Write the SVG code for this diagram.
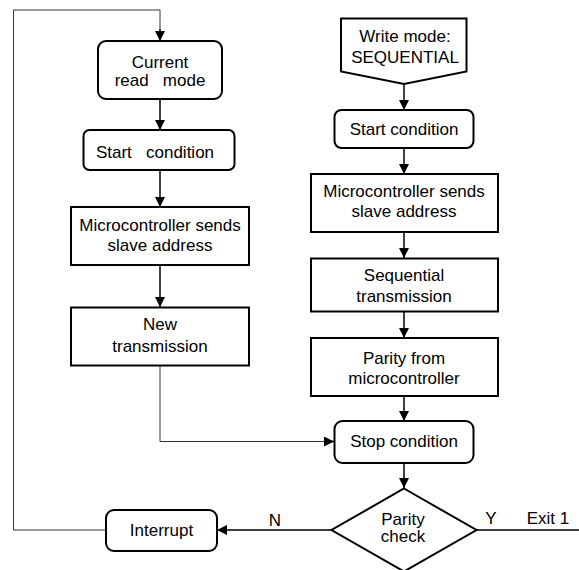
<svg xmlns="http://www.w3.org/2000/svg" width="579" height="570" viewBox="0 0 579 570">
<defs>
<marker id="ah" markerUnits="userSpaceOnUse" markerWidth="10" markerHeight="10" refX="10" refY="5" orient="auto" viewBox="0 0 10 10">
<path d="M0,0 L10,5 L0,10 z" fill="#000"/>
</marker>
<style>
.box{fill:#fff;stroke:#000;stroke-width:2}
.ln{fill:none;stroke:#000;stroke-width:1.5}
.thin{fill:none;stroke:#333;stroke-width:1}
.t{font-family:"Liberation Sans",Arial,sans-serif;font-size:17px;fill:#000;text-anchor:middle;white-space:pre}
</style>
</defs>
<rect width="579" height="570" fill="#fff"/>
<g id="connectors">
<polyline class="thin" points="106,530 13.5,530 13.5,10 160,10 160,30"/>
<line class="ln" x1="160" y1="29" x2="160" y2="41" marker-end="url(#ah)"/>
<line class="ln" x1="160" y1="99" x2="160" y2="130" marker-end="url(#ah)"/>
<line class="ln" x1="160" y1="170" x2="160" y2="207" marker-end="url(#ah)"/>
<line class="ln" x1="160" y1="265" x2="160" y2="307" marker-end="url(#ah)"/>
<polyline class="thin" points="160,366 160,441.5 325,441.5"/>
<line class="ln" x1="324" y1="441.5" x2="334" y2="441.5" marker-end="url(#ah)"/>
<line class="ln" x1="404" y1="84" x2="404" y2="110" marker-end="url(#ah)"/>
<line class="ln" x1="404" y1="148" x2="404" y2="174" marker-end="url(#ah)"/>
<line class="ln" x1="404" y1="232" x2="404" y2="258" marker-end="url(#ah)"/>
<line class="ln" x1="404" y1="312" x2="404" y2="338" marker-end="url(#ah)"/>
<line class="ln" x1="404" y1="396" x2="404" y2="421" marker-end="url(#ah)"/>
<line class="ln" x1="404" y1="463" x2="404" y2="488" marker-end="url(#ah)"/>
<line class="ln" x1="332" y1="530" x2="217" y2="530" marker-end="url(#ah)"/>
<line class="ln" x1="477" y1="530" x2="579" y2="530"/>
<text class="t" x="275" y="525.5">N</text>
<text class="t" x="491" y="524">Y</text>
<text class="t" x="548" y="524">Exit 1</text>
</g>
<g id="n-current-read">
<rect class="box" x="98" y="41" width="124" height="58" rx="8"/>
<text class="t" x="160" y="67.5">Current</text>
<text class="t" x="160" y="85.5">read   mode</text>
</g>
<g id="n-start-left">
<rect class="box" x="83.5" y="130" width="151" height="40" rx="6"/>
<text class="t" x="155" y="158">Start   condition</text>
</g>
<g id="n-micro-left">
<rect class="box" x="71" y="207" width="178" height="58"/>
<text class="t" x="160" y="231">Microcontroller sends</text>
<text class="t" x="160" y="251">slave address</text>
</g>
<g id="n-new-trans">
<rect class="box" x="71" y="307.5" width="178" height="58"/>
<text class="t" x="160" y="330">New</text>
<text class="t" x="160" y="352">transmission</text>
</g>
<g id="n-interrupt">
<rect class="box" x="106" y="510" width="111" height="41" rx="8"/>
<text class="t" x="161.5" y="536">Interrupt</text>
</g>
<g id="n-write-mode">
<polygon class="box" points="341,18.5 466.5,18.5 466.5,71.5 404,84 341,71.5"/>
<text class="t" x="405" y="41.5">Write mode:</text>
<text class="t" x="405" y="63">SEQUENTIAL</text>
</g>
<g id="n-start-right">
<rect class="box" x="334.5" y="110" width="139" height="38" rx="7"/>
<text class="t" x="404" y="135">Start condition</text>
</g>
<g id="n-micro-right">
<rect class="box" x="311" y="174" width="187" height="58"/>
<text class="t" x="404" y="197">Microcontroller sends</text>
<text class="t" x="404" y="217">slave address</text>
</g>
<g id="n-seq-trans">
<rect class="box" x="311" y="258.5" width="187" height="53"/>
<text class="t" x="404" y="281">Sequential</text>
<text class="t" x="404" y="301.5">transmission</text>
</g>
<g id="n-parity-from">
<rect class="box" x="311" y="338" width="187" height="58"/>
<text class="t" x="404" y="364">Parity from</text>
<text class="t" x="404" y="384">microcontroller</text>
</g>
<g id="n-stop">
<rect class="box" x="334.5" y="421" width="139" height="42" rx="8"/>
<text class="t" x="404" y="447">Stop condition</text>
</g>
<g id="n-parity-check">
<polygon class="box" points="404,488.5 476.5,530 404,571.5 331.5,530"/>
<text class="t" x="403" y="525">Parity</text>
<text class="t" x="403" y="542">check</text>
</g>
</svg>
